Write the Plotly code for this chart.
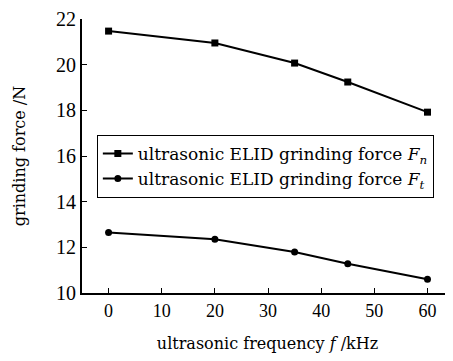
import plotly.graph_objects as go

freq = [0, 20, 35, 45, 60]
force_n = [21.47, 20.95, 20.07, 19.24, 17.92]
force_t = [12.65, 12.35, 11.8, 11.28, 10.6]
x_ticks = [0, 10, 20, 30, 40, 50, 60]
x_tick_labels = ["0", "10", "20", "30", "40", "50", "60"]
y_ticks = [10, 12, 14, 16, 18, 20, 22]
y_tick_labels = ["10", "12", "14", "16", "18", "20", "22"]

text_font = "DejaVu Serif"
num_font = "Liberation Serif"

fig = go.Figure()
fig.add_trace(go.Scatter(
    x=freq, y=force_n, mode="lines+markers",
    name="ultrasonic ELID grinding force <i>F</i><sub><i>n</i></sub>",
    line=dict(color="black", width=2),
    marker=dict(symbol="square", size=7, color="black"),
))
fig.add_trace(go.Scatter(
    x=freq, y=force_t, mode="lines+markers",
    name="ultrasonic ELID grinding force <i>F</i><sub><i>t</i></sub>",
    line=dict(color="black", width=2),
    marker=dict(symbol="circle", size=7, color="black"),
))

fig.update_layout(
    width=445, height=353,
    margin=dict(l=74, r=0, t=11, b=68),
    paper_bgcolor="white", plot_bgcolor="white",
    font=dict(family=text_font, color="black", size=17),
    legend=dict(
        x=0.04, y=0.577, xanchor="left", yanchor="top",
        bordercolor="black", borderwidth=1, bgcolor="white",
        font=dict(size=17, family=text_font, color="black"),
        tracegroupgap=0, itemwidth=30,
    ),
    xaxis=dict(
        range=[-5, 64.8], tickmode="array", tickvals=x_ticks, ticktext=x_tick_labels,
        ticks="inside", ticklen=5, tickwidth=1, tickcolor="black",
        showline=True, linecolor="black", linewidth=2,
        showgrid=False, zeroline=False, automargin=False,
        tickfont=dict(size=18, family=num_font, color="black"),
        title=dict(text="ultrasonic frequency <i>f</i> /kHz",
                   font=dict(size=16, color="black"), standoff=18),
    ),
    yaxis=dict(
        range=[10, 22], tickmode="array", tickvals=y_ticks, ticktext=y_tick_labels,
        ticks="inside", ticklen=5, tickwidth=1, tickcolor="black",
        showline=True, linecolor="black", linewidth=2,
        showgrid=False, zeroline=False, automargin=False,
        tickfont=dict(size=20, family=num_font, color="black"),
        title=dict(text="grinding force /N", font=dict(size=16, color="black"), standoff=26),
    ),
)

fig.write_html("out.html")
